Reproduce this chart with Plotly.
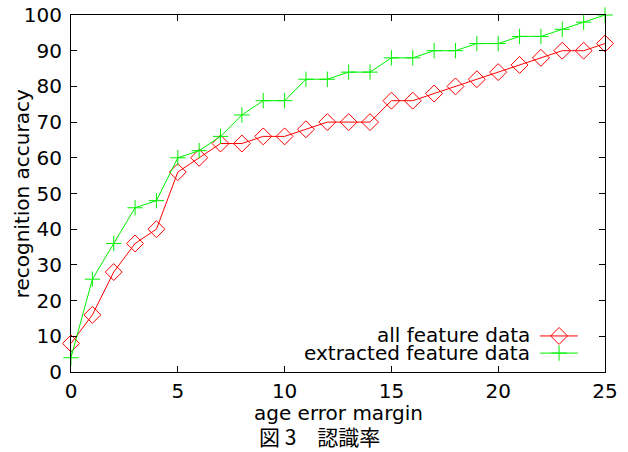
import plotly.graph_objects as go

margin_x = list(range(0, 26))
all_feature = [8, 16, 28, 36, 40, 56, 60, 64, 64, 66, 66, 68, 70, 70, 70,
               76, 76, 78, 80, 82, 84, 86, 88, 90, 90, 92]
extracted_feature = [4, 26, 36, 46, 48, 60, 62, 66, 72, 76, 76, 82, 82, 84, 84,
                     88, 88, 90, 90, 92, 92, 94, 94, 96, 98, 100]
series_names = ["all feature data", "extracted feature data"]
x_ticks = [0, 5, 10, 15, 20, 25]
y_ticks = [0, 10, 20, 30, 40, 50, 60, 70, 80, 90, 100]
x_title = "age error margin"
y_title = "recognition accuracy"
caption = "図 3　認識率"

RED = "#ff0000"
GREEN = "#00f000"
FONT = "DejaVu Sans"

fig = go.Figure()
fig.add_trace(go.Scatter(
    x=margin_x, y=all_feature, mode="lines+markers", name=series_names[0],
    line=dict(color=RED, width=1),
    marker=dict(symbol="diamond-open", size=13, color=RED, line=dict(width=1, color=RED)),
    cliponaxis=False, showlegend=False))
fig.add_trace(go.Scatter(
    x=margin_x, y=extracted_feature, mode="lines+markers", name=series_names[1],
    line=dict(color=GREEN, width=1),
    marker=dict(symbol="cross-thin-open", size=11, color=GREEN, line=dict(width=1, color=GREEN)),
    cliponaxis=False, showlegend=False))

# legend samples (gnuplot style: text on left, sample on right)
leg_x = [0.878, 0.949]
leg_y = [0.101, 0.053]
fig.add_trace(go.Scatter(x=leg_x, y=[leg_y[0]] * 2, xaxis="x2", yaxis="y2", mode="lines",
                         line=dict(color=RED, width=1), showlegend=False, hoverinfo="skip"))
fig.add_trace(go.Scatter(x=[0.914], y=[leg_y[0]], xaxis="x2", yaxis="y2", mode="markers",
                         marker=dict(symbol="diamond-open", size=13, color=RED, line=dict(width=1, color=RED)),
                         showlegend=False, hoverinfo="skip"))
fig.add_trace(go.Scatter(x=leg_x, y=[leg_y[1]] * 2, xaxis="x2", yaxis="y2", mode="lines",
                         line=dict(color=GREEN, width=1), showlegend=False, hoverinfo="skip"))
fig.add_trace(go.Scatter(x=[0.914], y=[leg_y[1]], xaxis="x2", yaxis="y2", mode="markers",
                         marker=dict(symbol="cross-thin-open", size=11, color=GREEN, line=dict(width=1, color=GREEN)),
                         showlegend=False, hoverinfo="skip"))

axis_common = dict(showgrid=False, zeroline=False, showline=True, linecolor="black",
                   linewidth=1, mirror="ticks", ticks="inside", ticklen=6, automargin=False,
                   ticklabeloverflow="allow",
                   tickcolor="black", tickfont=dict(family=FONT, size=20, color="black"))

fig.update_layout(
    width=628, height=452,
    margin=dict(l=71, r=23, t=15, b=80),
    paper_bgcolor="white", plot_bgcolor="white",
    font=dict(family=FONT, size=20, color="black"),
    xaxis=dict(range=[0, 25], tickvals=x_ticks, ticklabelstandoff=1, **axis_common),
    yaxis=dict(range=[0, 100], tickvals=y_ticks, ticklabelstandoff=4, **axis_common),
    xaxis2=dict(range=[0, 1], overlaying="x", visible=False, automargin=False),
    yaxis2=dict(range=[0, 1], overlaying="y", visible=False, automargin=False),
    annotations=[
        dict(text=series_names[0], xref="paper", yref="paper", x=0.863, y=0.104,
             xanchor="right", yanchor="middle", showarrow=False, font=dict(family=FONT, size=20)),
        dict(text=series_names[1], xref="paper", yref="paper", x=0.863, y=0.053,
             xanchor="right", yanchor="middle", showarrow=False, font=dict(family=FONT, size=20)),
        dict(text=x_title, xref="paper", yref="paper", x=0.5, y=-0.115,
             xanchor="center", yanchor="middle", showarrow=False, font=dict(family=FONT, size=20)),
        dict(text=y_title, xref="paper", yref="paper", x=-0.092, y=0.5, textangle=-90,
             xanchor="center", yanchor="middle", showarrow=False, font=dict(family=FONT, size=20)),
        dict(text=caption, xref="paper", yref="paper", x=0.466, y=-0.180,
             xanchor="center", yanchor="middle", showarrow=False,
             font=dict(family="Noto Sans CJK JP", size=21)),
    ],
)

fig.write_html("out.html", config={"displayModeBar": False},
               post_script="document.body.style.margin='0';document.body.style.padding='0';")
